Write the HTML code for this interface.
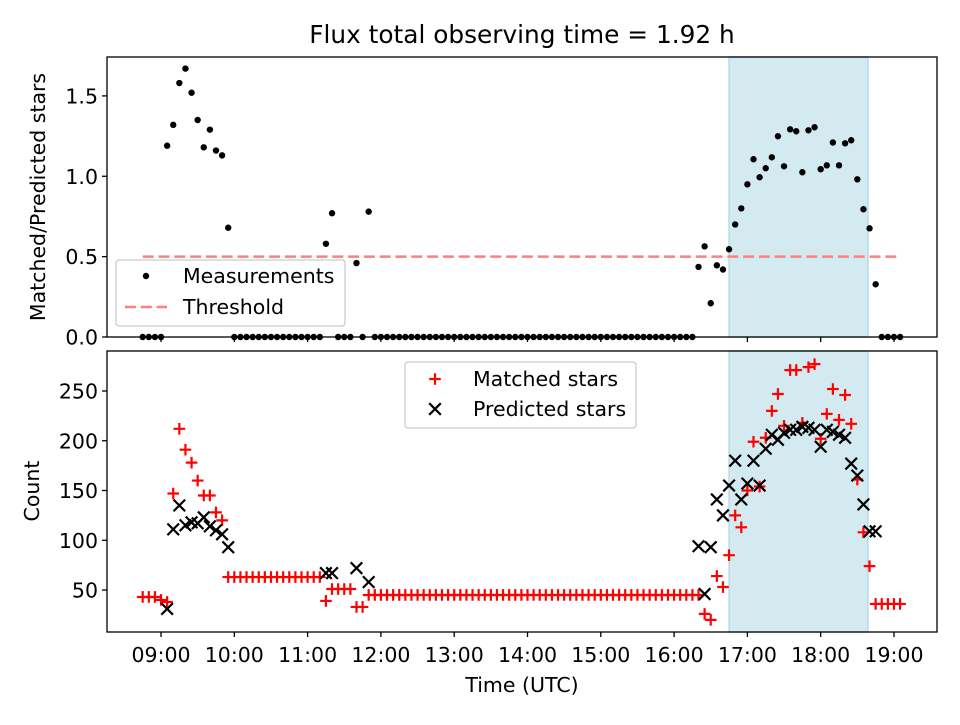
<!DOCTYPE html>
<html><head><meta charset="utf-8"><style>
html,body{margin:0;padding:0;background:#fff}
svg text{font-family:"DejaVu Sans","Liberation Sans",sans-serif;fill:#000}
</style></head><body>
<svg id="chart" width="960" height="720" viewBox="0 0 960 720" xmlns="http://www.w3.org/2000/svg"></svg>
<script>
// time grid: index i -> 8.75 + i/12 hours
const startHour = 8.75;
const stepHour = 1/12;
const nPoints = 125;
// ratio values: [index, value]; all other indices are 0
const ratioNonZero = [[4,1.19],[5,1.32],[6,1.58],[7,1.67],[8,1.52],[9,1.35],[10,1.18],[11,1.29],[12,1.16],[13,1.13],[14,0.68],
 [30,0.58],[31,0.77],[35,0.46],[37,0.78],
 [91,0.436],[92,0.564],[93,0.21],[94,0.446],[95,0.42],[96,0.546],[97,0.70],[98,0.80],[99,0.95],[100,1.106],[101,0.994],[102,1.05],[103,1.118],[104,1.249],[105,1.062],[106,1.292],[107,1.28],[108,1.025],[109,1.286],[110,1.305],[111,1.044],[112,1.068],[113,1.21],[114,1.068],[115,1.205],[116,1.224],[117,0.981],[118,0.795],[119,0.676],[120,0.328]];
// matched stars: [index, value]
const matchedSparse = [[0,43],[1,43],[2,43],[3,40],[4,38],[5,147],[6,212],[7,191],[8,178],[9,160],[10,145],[11,145],[12,128],[13,120],
 [30,39],[31,51],[32,51],[33,51],[34,51],[35,33],[36,33],
 [92,26],[93,20],[94,64],[95,53],[96,85],[97,125],[98,113],[99,150],[100,199],[101,154],[102,203],[103,230],[104,247],[105,215],[106,271],[107,271],[108,218],[109,274],[110,277],[111,202],[112,227],[113,252],[114,221],[115,246],[116,217],[117,161],[118,108],[119,74],[120,36],[121,36],[122,36],[123,36],[124,36]];
const matchedFlat1 = [14,29,63];   // [fromIndex, toIndex, value]
const matchedFlat2 = [37,91,45];
// predicted stars: [index, value]
const predictedSparse = [[4,31],[5,111],[6,135],[7,115],[8,118],[9,117],[10,123],[11,114],[12,110],[13,106],[14,93],
 [30,67],[31,67],[35,72],[37,58],
 [91,94],[92,46],[93,93],[94,141],[95,125],[96,155],[97,180],[98,141],[99,157],[100,180],[101,155],[102,192],[103,206],[104,201],[105,208],[106,211],[107,211],[108,214],[109,213],[110,211],[111,194],[112,211],[113,209],[114,206],[115,203],[116,177],[117,165],[118,136],[119,109],[120,109]];
const xTickLabels = ["09:00","10:00","11:00","12:00","13:00","14:00","15:00","16:00","17:00","18:00","19:00"];
const xTickHours = [9,10,11,12,13,14,15,16,17,18,19];
const topYTicks = [0,0.5,1.0,1.5];
const topYTickLabels = ["0.0","0.5","1.0","1.5"];
const botYTicks = [50,100,150,200,250];
const threshold = 0.5;
const spanStart = 16.75, spanEnd = 18.645;

const FS = 20.5;
const svg = document.getElementById('chart');
const NS = 'http://www.w3.org/2000/svg';
function mk(tag, attrs, parent){const e=document.createElementNS(NS,tag);for(const k in attrs)e.setAttribute(k,attrs[k]);(parent||svg).appendChild(e);return e;}
const L=107,R=937;
const xMin=8.263,xMax=19.587;
const X=h=>L+(h-xMin)/(xMax-xMin)*(R-L);
const T={top:57,bot:337,min:0,max:1.742};
const B={top:351,bot:632,min:7.8,max:290.2};
const Yt=v=>T.bot-(v-T.min)/(T.max-T.min)*(T.bot-T.top);
const Yb=v=>B.bot-(v-B.min)/(B.max-B.min)*(B.bot-B.top);
const hourOf=i=>startHour+i*stepHour;

const ratio=[];for(let i=0;i<nPoints;i++)ratio.push(0);
ratioNonZero.forEach(([i,v])=>ratio[i]=v);
const matched=[];
for(let i=matchedFlat1[0];i<=matchedFlat1[1];i++)matched.push([i,matchedFlat1[2]]);
for(let i=matchedFlat2[0];i<=matchedFlat2[1];i++)matched.push([i,matchedFlat2[2]]);
matchedSparse.forEach(p=>matched.push(p));

function panel(P,Y,name){
  const g=mk('g',{});
  
  
  const sp=mk('rect',{x:X(spanStart),y:P.top,width:X(spanEnd)-X(spanStart),height:P.bot-P.top,fill:'#d4eaf1',stroke:'#b7dbe6','stroke-width':1.5},g);
  
  
  return g;
}
function frame(P,Y,ticks,labels,name){
  const g=mk('g',{});
  
  
  mk('rect',{x:L,y:P.top,width:R-L,height:P.bot-P.top,fill:'none',stroke:'#000','stroke-width':1.3},g);
  ticks.forEach((v,k)=>{const y=Y(v);mk('line',{x1:L-5,x2:L,y1:y,y2:y,stroke:'#000','stroke-width':1.3},g);
    const t=mk('text',{x:L-9,y:y+7.5,'text-anchor':'end','font-size':FS},g);t.textContent=labels[k];
    
    });
  xTickHours.forEach(h=>{mk('line',{x1:X(h),x2:X(h),y1:P.bot,y2:P.bot+5,stroke:'#000','stroke-width':1.3},g);});
}

// top panel
panel(T,Yt,'ratio-panel');
const thr=mk('line',{x1:X(hourOf(0)),x2:X(hourOf(nPoints-1)),y1:Yt(threshold),y2:Yt(threshold),stroke:'#ff7f7f','stroke-width':2.6,'stroke-dasharray':'11,4.8'});


ratio.forEach((v,i)=>{const c=mk('circle',{cx:X(hourOf(i)),cy:Yt(v),r:3.2,fill:'#000'});
  
  });
frame(T,Yt,topYTicks,topYTickLabels,'ratio-axes');

// bottom panel
panel(B,Yb,'count-panel');
matched.forEach(([i,v])=>{const x=X(hourOf(i)),y=Yb(v);const p=mk('path',{d:`M${x-5.8},${y}H${x+5.8}M${x},${y-5.8}V${y+5.8}`,stroke:'#ff0000','stroke-width':2.2,fill:'none'});
  
  });
predictedSparse.forEach(([i,v])=>{const x=X(hourOf(i)),y=Yb(v);const p=mk('path',{d:`M${x-5.8},${y-5.8}L${x+5.8},${y+5.8}M${x-5.8},${y+5.8}L${x+5.8},${y-5.8}`,stroke:'#000','stroke-width':2.2,fill:'none'});
  
  });
frame(B,Yb,botYTicks,botYTicks.map(String),'count-axes');
xTickHours.forEach((h,k)=>{const t=mk('text',{x:X(h),y:B.bot+30,'text-anchor':'middle','font-size':FS});t.textContent=xTickLabels[k];
  
  });

function txt(s,attrs,name){const t=mk('text',attrs);t.textContent=s;return t;}
txt('Flux total observing time = 1.92 h',{x:522,y:43,'text-anchor':'middle','font-size':24.8},'chart-title');
txt('Time (UTC)',{x:522,y:692,'text-anchor':'middle','font-size':FS},'x-axis-title');
txt('Matched/Predicted stars',{x:0,y:0,'text-anchor':'middle','font-size':FS,transform:'translate(45,197) rotate(-90)'},'top-y-axis-title');
txt('Count',{x:0,y:0,'text-anchor':'middle','font-size':FS,transform:'translate(39,491) rotate(-90)'},'bottom-y-axis-title');

const lg1=mk('g',{});


mk('rect',{x:116,y:260,width:229,height:66,rx:3,fill:'#fff','fill-opacity':0.8,stroke:'#ccc','stroke-width':1.3},lg1);
mk('circle',{cx:146,cy:276,r:3.2,fill:'#000'},lg1);
mk('line',{x1:125,x2:167,y1:307,y2:307,stroke:'#ff7f7f','stroke-width':2.6,'stroke-dasharray':'11,4.8'},lg1);
txt('Measurements',{x:183,y:283,'font-size':FS},'legend-measurements');
txt('Threshold',{x:183,y:314,'font-size':FS},'legend-threshold');

const lg2=mk('g',{});


mk('rect',{x:405,y:362,width:231,height:66,rx:3,fill:'#fff','fill-opacity':0.8,stroke:'#ccc','stroke-width':1.3},lg2);
mk('path',{d:'M429.2,379H440.8M435,373.2V384.8',stroke:'#ff0000','stroke-width':2.2},lg2);
mk('path',{d:'M429.2,403.2L440.8,414.8M429.2,414.8L440.8,403.2',stroke:'#000','stroke-width':2.2},lg2);
txt('Matched stars',{x:473,y:386,'font-size':FS},'legend-matched-stars');
txt('Predicted stars',{x:473,y:416,'font-size':FS},'legend-predicted-stars');
</script>
</body></html>
